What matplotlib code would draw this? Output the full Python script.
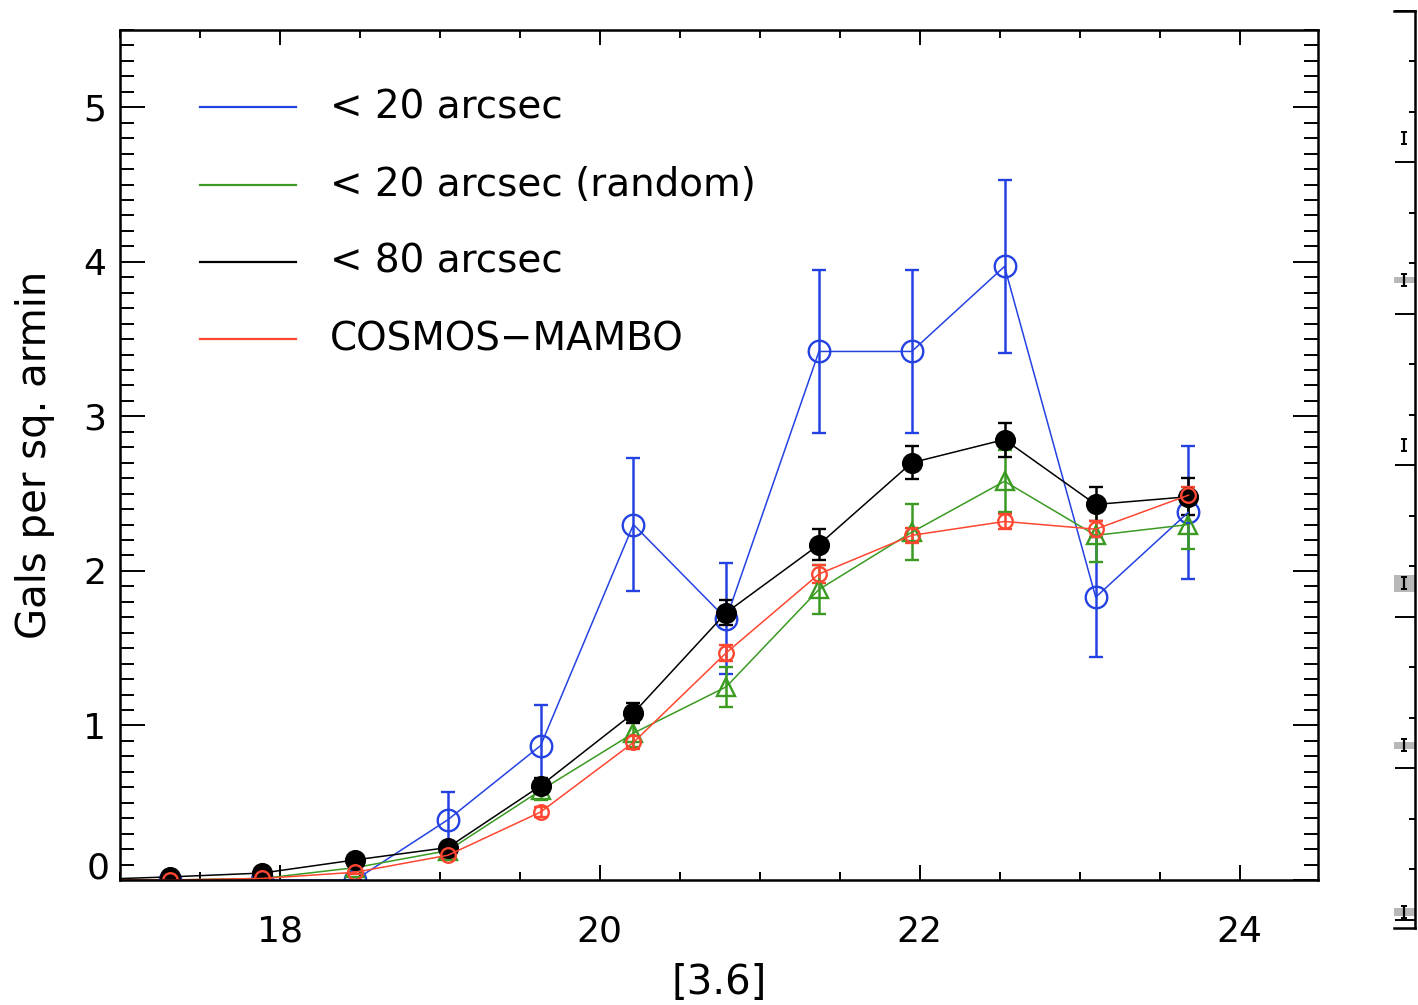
import matplotlib
matplotlib.use("Agg")
import matplotlib.pyplot as plt
from matplotlib.ticker import MultipleLocator, FuncFormatter
import matplotlib.transforms as mtransforms

"""
Galaxy counts around the targets in bins of [3.6] magnitude.
"""

# bin centres in [3.6]
mag = [16.73, 17.31, 17.89, 18.47, 19.05, 19.63, 20.21, 20.79, 21.37, 21.95, 22.53, 23.10, 23.68]

# < 20 arcsec
within20 = [0.0, 0.0, 0.0, 0.0, 0.39, 0.87, 2.30, 1.69, 3.42, 3.42, 3.97, 1.83, 2.38]
within20_err = [0.0, 0.0, 0.0, 0.0, 0.18, 0.26, 0.43, 0.36, 0.53, 0.53, 0.56, 0.39, 0.43]

# < 20 arcsec around random positions
random20 = [0.0, 0.0, 0.01, 0.08, 0.19, 0.58, 0.95, 1.25, 1.88, 2.25, 2.58, 2.23, 2.30]
random20_err = [0.0, 0.0, 0.01, 0.02, 0.03, 0.06, 0.09, 0.13, 0.16, 0.18, 0.20, 0.17, 0.16]

# < 80 arcsec
within80 = [0.0, 0.02, 0.045, 0.13, 0.21, 0.61, 1.08, 1.73, 2.17, 2.70, 2.85, 2.43, 2.48]
within80_err = [0.0, 0.01, 0.01, 0.02, 0.03, 0.05, 0.065, 0.08, 0.10, 0.105, 0.11, 0.11, 0.12]

# COSMOS-MAMBO field
cosmos = [0.0, 0.0, 0.01, 0.05, 0.16, 0.44, 0.89, 1.47, 1.98, 2.23, 2.32, 2.27, 2.49]
cosmos_err = [0.0, 0.0, 0.005, 0.01, 0.02, 0.03, 0.04, 0.05, 0.06, 0.05, 0.05, 0.05, 0.05]

labels = ["< 20 arcsec", "< 20 arcsec (random)", "< 80 arcsec", "COSMOS\u2212MAMBO"]
legend_y = [5.0, 4.5, 4.0, 3.5]

BLUE = "#2442e2"
GREEN = "#3a9a22"
BLACK = "black"
RED = "#ff4630"

FS = 26

plt.rcParams["font.family"] = ["DejaVu Sans"]

fig = plt.figure(figsize=(14.18, 10.05), dpi=100)
ax = fig.add_axes([120 / 1418, 1 - 880 / 1005, 1198 / 1418, 850 / 1005])

series = [
    (within20, within20_err, BLUE, "o", 15.5, "none"),
    (random20, random20_err, GREEN, "^", 13, "none"),
    (within80, within80_err, BLACK, "o", 13.5, BLACK),
    (cosmos, cosmos_err, RED, "o", 10.5, "none"),
]
for vals, errs, col, mk, ms, face in series:
    ax.errorbar(mag, vals, yerr=errs, color=col, lw=1.1, marker=mk, ms=ms,
                mfc=face, mec=col, mew=1.7, elinewidth=1.8, capsize=5,
                capthick=1.8, clip_on=True)

# hand-made legend inside the plot box
for lab, y, col in zip(labels, legend_y, [BLUE, GREEN, BLACK, RED]):
    ax.plot([17.5, 18.1], [y, y], color=col, lw=1.6)
    ax.text(18.31, y, lab, fontsize=FS + 2, va="center", ha="left")

ax.set_xlim(17.0, 24.49)
ax.set_ylim(0, 5.5)
ax.xaxis.set_major_locator(MultipleLocator(2))
ax.xaxis.set_minor_locator(MultipleLocator(0.5))
ax.yaxis.set_major_locator(MultipleLocator(1))
ax.yaxis.set_minor_locator(MultipleLocator(0.1))
# the zero label is drawn separately, sitting just above the x axis
ax.yaxis.set_major_formatter(FuncFormatter(lambda v, p: "" if abs(v) < 1e-9 else f"{v:g}"))
ax.tick_params(axis="x", which="both", direction="in", top=True, labelsize=FS, pad=25)
ax.tick_params(axis="x", which="major", length=11, width=1.4)
ax.tick_params(axis="x", which="minor", length=5.5, width=1.4)
ax.tick_params(axis="y", which="both", direction="in", right=True, labelsize=FS, pad=10)
ax.tick_params(axis="y", which="major", length=18, width=1.4)
ax.tick_params(axis="y", which="minor", length=10, width=1.4)
for sp in ax.spines.values():
    sp.set_linewidth(1.8)

zero_tr = mtransforms.offset_copy(ax.get_yaxis_transform(), fig=fig, x=-10, y=-5, units="dots")
ax.text(0, 0, "0", fontsize=FS, ha="right", va="bottom", transform=zero_tr)

ax.set_xlabel("[3.6]", fontsize=FS + 3, labelpad=10)
ax.set_ylabel("Gals per sq. armin", fontsize=FS + 3, labelpad=20)

# edge of the neighbouring panel
ax2 = fig.add_axes([1394 / 1418, 1 - 928 / 1005, 21 / 1418, 917 / 1005])
ax2.set_xlim(0, 21)
ax2.set_ylim(928, 11)
ax2.spines["left"].set_visible(False)
for sp in ["top", "bottom", "right"]:
    ax2.spines[sp].set_linewidth(1.8)
ax2.set_xticks([])
ax2.yaxis.tick_right()
ax2.set_yticks([11 + 151.5 * k for k in range(7)])
ax2.set_yticks([11 + 50.5 * k for k in range(19)], minor=True)
ax2.tick_params(axis="y", which="both", direction="in", labelright=False, width=1.4)
ax2.tick_params(axis="y", which="major", length=14.5)
ax2.tick_params(axis="y", which="minor", length=4.5)
for y0, y1 in [(277, 283), (575, 592), (742, 749), (908, 916)]:
    ax2.axhspan(y0, y1, color="#b8b8b8", lw=0)
ax2.errorbar([10, 10, 10, 10, 10, 10], [138, 280, 445, 583, 745, 912],
             yerr=6, fmt="none", ecolor="black", elinewidth=1.6, capsize=2.5,
             capthick=1.4)

fig.savefig("out.png", dpi=100)
